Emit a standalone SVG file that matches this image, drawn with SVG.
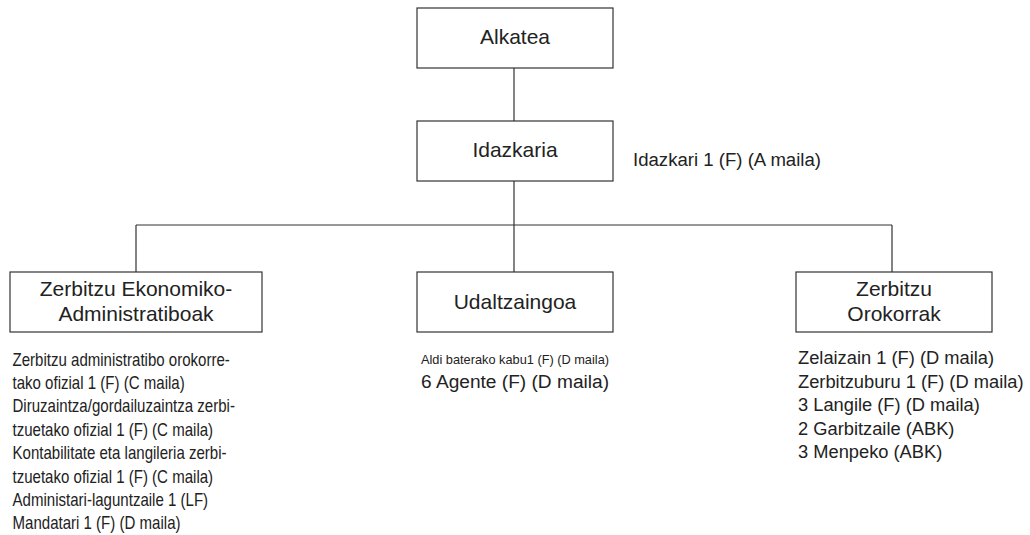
<svg xmlns="http://www.w3.org/2000/svg" width="1030" height="535" viewBox="0 0 1030 535">
<style>
.box{fill:#fff;stroke:#333;stroke-width:1.2}
.lbl{font-family:"Liberation Sans",Arial,sans-serif;font-size:21px;fill:#222;text-anchor:middle}
.txt{font-family:"Liberation Sans",Arial,sans-serif;font-size:18px;fill:#222}
.lft{font-size:17.5px}
.rgt{font-size:18.3px}
.sm{font-size:13.5px}
.conn{stroke:#333;stroke-width:1.2;fill:none}
</style>
<rect width="1030" height="535" fill="#fff"/>
<g id="connectors">
<path class="conn" d="M514 68V121M514 181V225M136 225H892M136 225V272M514 225V272M892 225V272"/>
</g>
<g id="alkatea">
<rect class="box" x="417" y="8" width="196" height="60"/>
<text class="lbl" x="515" y="44">Alkatea</text>
</g>
<g id="idazkaria">
<rect class="box" x="417" y="121" width="196" height="60"/>
<text class="lbl" x="515" y="157">Idazkaria</text>
<text class="txt" x="633" y="166" textLength="188" lengthAdjust="spacingAndGlyphs">Idazkari 1 (F) (A maila)</text>
</g>
<g id="ekonomiko">
<rect class="box" x="10" y="272" width="252" height="60"/>
<text class="lbl" x="136" y="296">Zerbitzu Ekonomiko-</text>
<text class="lbl" x="136" y="321">Administratiboak</text>
<g transform="translate(12.5,0) scale(0.86,1)">
<text class="txt lft" x="0" y="365.7">
<tspan x="0" dy="0">Zerbitzu administratibo orokorre-</tspan>
<tspan x="0" dy="23.4">tako ofizial 1 (F) (C maila)</tspan>
<tspan x="0" dy="23.4">Diruzaintza/gordailuzaintza zerbi-</tspan>
<tspan x="0" dy="23.4">tzuetako ofizial 1 (F) (C maila)</tspan>
<tspan x="0" dy="23.4">Kontabilitate eta langileria zerbi-</tspan>
<tspan x="0" dy="23.4">tzuetako ofizial 1 (F) (C maila)</tspan>
<tspan x="0" dy="23.4">Administari-laguntzaile 1 (LF)</tspan>
<tspan x="0" dy="23.4">Mandatari 1 (F) (D maila)</tspan>
</text>
</g>
</g>
<g id="udaltzaingoa">
<rect class="box" x="417" y="272" width="196" height="60"/>
<text class="lbl" x="515" y="309">Udaltzaingoa</text>
<text class="txt sm" x="421" y="364.3" textLength="188" lengthAdjust="spacingAndGlyphs">Aldi baterako kabu1 (F) (D maila)</text>
<text class="txt" x="421" y="388.3" textLength="188" lengthAdjust="spacingAndGlyphs">6 Agente (F) (D maila)</text>
</g>
<g id="orokorrak">
<rect class="box" x="796" y="272" width="196" height="60"/>
<text class="lbl" x="894" y="296">Zerbitzu</text>
<text class="lbl" x="894" y="321">Orokorrak</text>
<text class="txt rgt" x="798" y="364.3">
<tspan x="798" dy="0">Zelaizain 1 (F) (D maila)</tspan>
<tspan x="798" dy="23.4">Zerbitzuburu 1 (F) (D maila)</tspan>
<tspan x="798" dy="23.4">3 Langile (F) (D maila)</tspan>
<tspan x="798" dy="23.4">2 Garbitzaile (ABK)</tspan>
<tspan x="798" dy="23.4">3 Menpeko (ABK)</tspan>
</text>
</g>
</svg>
